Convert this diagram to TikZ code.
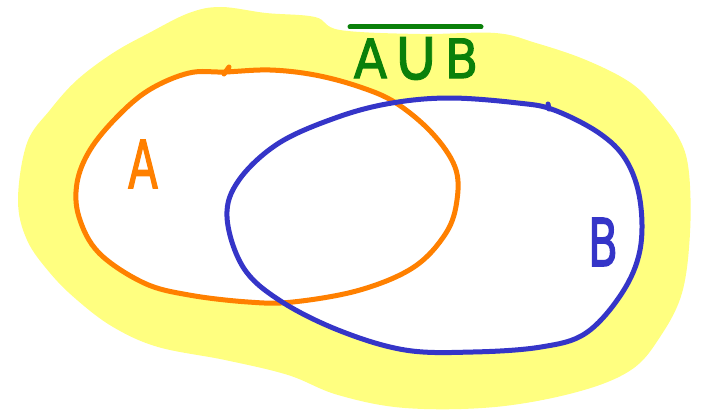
\documentclass[tikz,border=0pt]{standalone}
\usepackage{fontspec}
\setmainfont{DejaVu Sans}
\newfontfamily\handfont[FakeBold=2.2]{DejaVu Sans}
\newfontfamily\cupfont[FakeBold=1.2]{DejaVu Sans}
\definecolor{hlyellow}{RGB}{255,255,128}
\definecolor{setorange}{RGB}{255,128,0}
\definecolor{setblue}{RGB}{53,53,200}
\definecolor{setgreen}{RGB}{10,128,10}
\tikzset{
  setline/.style={line width=5pt, line cap=round, line join=round},
  letter/.style={inner sep=0pt, font=\handfont\fontsize{66}{66}\selectfont, xscale=0.66, transform shape},
}
\begin{document}
\begin{tikzpicture}[x=1pt,y=-1pt]
\useasboundingbox (0,0) rectangle (704,412);
% yellow highlighter blob
\fill[hlyellow] plot[smooth cycle, tension=0.6] coordinates {
 (18,200) (27,143) (50,110) (77,80) (113,53) (149,33) (189,13) (221,7) (266,13) (315,17) (340,30)
 (420,34) (495,33) (536,43) (586,60) (631,83) (658,110) (680,140) (689,173) (690,233) (682,293)
 (660,337) (631,370) (577,392) (495,407) (405,408) (338,395) (288,375) (225,360) (158,347)
 (113,327) (77,300) (50,273) (27,240)};
% white interiors
\fill[white] plot[smooth cycle, tension=0.6] coordinates {
 (225,72) (270,70) (315,75) (360,87) (396,103) (432,133) (455,167) (457,200) (446,233) (414,267)
 (360,290) (293,302) (248,302) (189,295) (144,283) (99,253) (79,217) (77,183) (90,150) (117,117)
 (149,90) (189,73)};
\fill[white] plot[smooth cycle, tension=0.6] coordinates {
 (450,98) (518,103) (554,110) (599,133) (626,160) (640,200) (640,250) (622,293) (586,333) (541,347)
 (473,352) (405,350) (338,330) (279,300) (243,267) (227,217) (239,180) (279,143) (338,117) (392,103)};
% set A outline
\draw[setline, setorange] plot[smooth cycle, tension=0.6] coordinates {
 (225,72) (270,70) (315,75) (360,87) (396,103) (432,133) (455,167) (457,200) (446,233) (414,267)
 (360,290) (293,302) (248,302) (189,295) (144,283) (99,253) (79,217) (77,183) (90,150) (117,117)
 (149,90) (189,73)};
\draw[line width=5pt, line cap=round, setorange] (229,67) -- (224,74);
% set B outline
\draw[setline, setblue] plot[smooth cycle, tension=0.6] coordinates {
 (450,98) (518,103) (554,110) (599,133) (626,160) (640,200) (640,250) (622,293) (586,333) (541,347)
 (473,352) (405,350) (338,330) (279,300) (243,267) (227,217) (239,180) (279,143) (338,117) (392,103)};
\draw[line width=5pt, line cap=round, setblue] (548,104) -- (549,109);
% labels
\node[letter, text=setorange] (la) at (143,164) {A};
\node[letter, text=setblue] (lb) at (603,242) {B};
\node[inner sep=0pt, anchor=base, text=setgreen, font=\handfont\fontsize{54}{54}\selectfont, xscale=0.9, transform shape] (lu) at (416,78) {A\kern5pt\raisebox{-2pt}{\cupfont\fontsize{74}{74}\selectfont ∪}\kern5pt B};
\draw[line width=5pt, line cap=round, setgreen] (350,27) -- (481,27);
\end{tikzpicture}
\end{document}
